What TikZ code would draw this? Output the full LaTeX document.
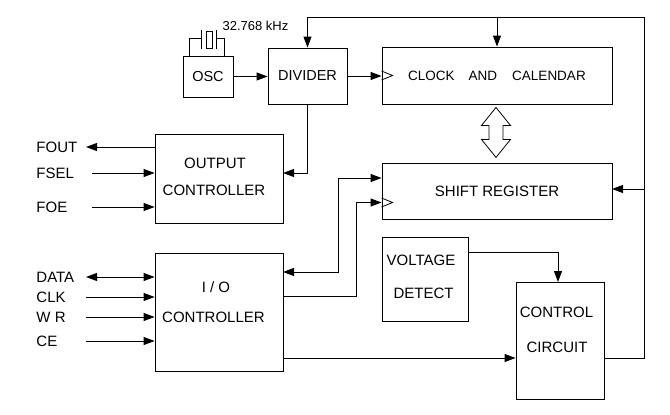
\documentclass[tikz,border=0pt]{standalone}
\usepackage{fontspec}
\setmainfont{Liberation Sans}
\usetikzlibrary{arrows.meta,calc}
\begin{document}
\begin{tikzpicture}[x=1pt,y=-1pt,
  line width=0.9pt,
  box/.style={draw, inner sep=0pt, font=\fontsize{15}{17}\selectfont},
  lbl/.style={inner sep=0pt, font=\fontsize{15}{17}\selectfont},
  arr/.style={-{Triangle[length=11pt,width=8pt]}},
  darr/.style={{Triangle[length=11pt,width=8pt]}-{Triangle[length=11pt,width=8pt]}},
  clktri/.style={line width=0.8pt}
]
\useasboundingbox (0,0) rectangle (670,415);

% boxes
\node[box, minimum width=50pt, minimum height=41pt, font=\fontsize{14.5}{16}\selectfont] (osc) at (208,76.5) {OSC};
\node[box, minimum width=79pt, minimum height=56pt, font=\fontsize{14.5}{16}\selectfont] (div) at (307.5,76) {DIVIDER};
\node[box, minimum width=230pt, minimum height=57pt, font=\fontsize{13.5}{15}\selectfont] (clk) at (497,75.5) {CLOCK\hspace{14pt}AND\hspace{15pt}CALENDAR};
\node[box, minimum width=128pt, minimum height=89pt] (out) at (219,178.5) {};
\node[box, minimum width=230pt, minimum height=56pt] (sr) at (497,191) {SHIFT REGISTER};
\node[box, minimum width=128pt, minimum height=118pt] (io) at (219,312) {};
\node[box, minimum width=86pt, minimum height=84pt] (vd) at (425,279) {};
\node[box, minimum width=88pt, minimum height=117pt] (cc) at (560,340.5) {};

% box labels
\node[lbl] (outt1) at (215,163) {OUTPUT};
\node[lbl] (outt2) at (214,190) {CONTROLLER};
\node[lbl] (iot1) at (216,287) {I / O};
\node[lbl] (iot2) at (213.5,317) {CONTROLLER};
\node[lbl] (vdt1) at (421,260) {VOLTAGE};
\node[lbl] (vdt2) at (423.5,293) {DETECT};
\node[lbl] (cct1) at (556.5,312) {CONTROL};
\node[lbl] (cct2) at (557,347) {CIRCUIT};
\node[inner sep=0pt, font=\fontsize{13}{15}\selectfont] (freq) at (255.5,26) {32.768 kHz};

% crystal
\draw (189,56) -- (189,38) -- (201,38);
\draw (201,30) -- (201,49);
\draw (206,31) rectangle (212,48);
\draw (216,30) -- (216,49);
\draw (216,38) -- (224,38) -- (224,56);

% pin labels
\node[lbl, anchor=west] (fout) at (36,147) {FOUT};
\node[lbl, anchor=west] (fsel) at (36,173) {FSEL};
\node[lbl, anchor=west] (foe) at (36,207) {FOE};
\node[lbl, anchor=west] (data) at (36,277) {DATA};
\node[lbl, anchor=west] (clkp) at (36,297) {CLK};
\node[lbl, anchor=west] (wr) at (36,317) {W R};
\node[lbl, anchor=west] (ce) at (36,341) {CE};

% coordinates for ports
\coordinate (foutE) at (86,147);
\coordinate (fselS) at (92,173);
\coordinate (foeS) at (92,207);
\coordinate (dataE) at (86,277);
\coordinate (clkS) at (86,297);
\coordinate (wrS) at (86,317);
\coordinate (ceS) at (86,341);
\coordinate (outR) at (283,173);
\coordinate (ioR1) at (283,272);
\coordinate (j1) at (338,178);
\coordinate (ioR2) at (283,296);
\coordinate (j2) at (356,202.5);
\coordinate (ioR3) at (283,358);
\coordinate (vdR) at (468,252);
\coordinate (ccT) at (558,282);
\coordinate (ccR) at (604,358);
\coordinate (rt) at (644,17);
\coordinate (srR) at (612,189);

% connectors
\draw[arr] (osc.east) -- (osc.east -| div.west);
\draw[arr] (div.east) -- (div.east -| clk.west);
\draw[clktri] ($(clk.west)+(0,-4.5)$) -- ($(clk.west)+(11,0)$) -- ($(clk.west)+(0,4.5)$);
\draw[arr] (ccR) -| (rt) -| (div.north);
\draw[arr] (clk.north |- rt) -- (clk.north);
\draw[arr] (srR -| rt) -- (srR);
\draw[arr] (div.south) |- (outR);
\draw[arr] (out.west |- foutE) -- (foutE);
\draw[arr] (fselS) -- (fselS -| out.west);
\draw[arr] (foeS) -- (foeS -| out.west);
\draw[darr] (dataE) -- (dataE -| io.west);
\draw[arr] (clkS) -- (clkS -| io.west);
\draw[arr] (wrS) -- (wrS -| io.west);
\draw[arr] (ceS) -- (ceS -| io.west);
\draw[darr] (ioR1) -| (j1) -- (j1 -| sr.west);
\draw[arr] (ioR2) -| (j2) -- (j2 -| sr.west);
\draw[clktri] ($(j2 -| sr.west)+(0,-4.5)$) -- ($(j2 -| sr.west)+(11,0)$) -- ($(j2 -| sr.west)+(0,4.5)$);
\draw[arr] (ioR3) -- (ioR3 -| cc.west);
\draw[arr] (vdR) -| (ccT);

% wide double arrow between clock and shift register
\draw[line width=0.8pt] ($(clk.south)+(-1,3)$) -- ++(14.5,18) -- ++(-7.5,0) -- ++(0,14) -- ++(7.5,0)
  -- ++(-14.5,18) -- ++(-14.5,-18) -- ++(7.5,0) -- ++(0,-14) -- ++(-7.5,0) -- cycle;
\end{tikzpicture}
\end{document}
